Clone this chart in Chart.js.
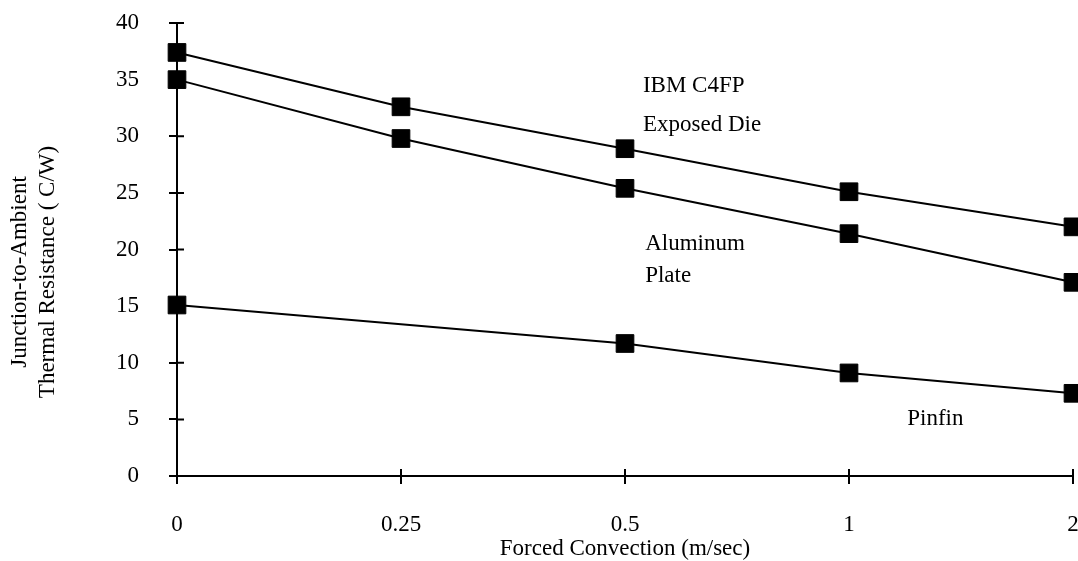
<!DOCTYPE html>
<html>
<head>
<meta charset="utf-8">
<script src="https://cdn.jsdelivr.net/npm/chart.js@4.4.1/dist/chart.umd.min.js"></script>
<style>
  html, body { margin: 0; padding: 0; background: #fff; }
  #wrap { width: 1078px; height: 561px; }
</style>
</head>
<body>
<div id="wrap"><canvas id="chart" width="1078" height="561"></canvas></div>
<script>
// --- Data ---
const speeds = ["0", "0.25", "0.5", "1", "2"];
const ibmDie = [37.4, 32.6, 28.9, 25.1, 22.0];
const aluPlate = [35.0, 29.8, 25.4, 21.4, 17.1];
const pinfin = [15.1, null, 11.7, 9.1, 7.3];

const xTitle = "Forced Convection (m/sec)";
const yTitle = ["Junction-to-Ambient", "Thermal Resistance ( C/W)"];

// labels next to the curves, in data units (x = category index)
const notes = [
  { text: "IBM C4FP", x: 2.08, y: 34.4 },
  { text: "Exposed Die", x: 2.08, y: 31.0 },
  { text: "Aluminum", x: 2.09, y: 20.5 },
  { text: "Plate", x: 2.09, y: 17.7 },
  { text: "Pinfin", x: 3.26, y: 5.0 },
];

const FONT = "'Liberation Serif', 'Times New Roman', serif";

// --- Plugins ---
// inner half of the tick marks, so they cross the axis lines
const crossTicks = {
  id: "crossTicks",
  afterDraw(chart) {
    const { ctx, scales: { x, y } } = chart;
    ctx.save();
    ctx.strokeStyle = "#000";
    ctx.lineWidth = 2;
    ctx.beginPath();
    y.ticks.forEach((t, i) => {
      const py = y.getPixelForTick(i);
      ctx.moveTo(x.left, py);
      ctx.lineTo(x.left + 7, py);
    });
    x.ticks.forEach((t, i) => {
      const px = x.getPixelForTick(i);
      ctx.moveTo(px, y.bottom);
      ctx.lineTo(px, y.bottom - 7);
    });
    ctx.stroke();
    ctx.restore();
  },
};

const textBits = {
  id: "textBits",
  afterDraw(chart) {
    const { ctx, scales: { x, y } } = chart;
    ctx.save();
    ctx.fillStyle = "#000";
    ctx.font = "23px " + FONT;
    ctx.textBaseline = "middle";
    ctx.textAlign = "left";
    notes.forEach((n) => {
      ctx.fillText(n.text, x.getPixelForValue(n.x), y.getPixelForValue(n.y));
    });
    // y axis title, two rotated lines
    ctx.textAlign = "center";
    yTitle.forEach((line, i) => {
      ctx.save();
      ctx.translate(20 + i * 28, 272);
      ctx.rotate(-Math.PI / 2);
      ctx.fillText(line, 0, 0);
      ctx.restore();
    });
    ctx.restore();
  },
};

// --- Chart ---
const ctx = document.getElementById("chart").getContext("2d");

function series(label, data) {
  return {
    label: label,
    data: data,
    borderColor: "#000",
    borderWidth: 2,
    backgroundColor: "#000",
    pointStyle: "rect",
    pointRadius: 12.5,
    pointBorderWidth: 1,
    pointBackgroundColor: "#000",
    pointBorderColor: "#000",
    tension: 0,
    spanGaps: true,
    clip: false,
  };
}

new Chart(ctx, {
  type: "line",
  data: {
    labels: speeds,
    datasets: [
      series("IBM C4FP Exposed Die", ibmDie),
      series("Aluminum Plate", aluPlate),
      series("Pinfin", pinfin),
    ],
  },
  options: {
    responsive: false,
    animation: false,
    devicePixelRatio: 1,
    layout: { autoPadding: false, padding: { top: 23, right: 5, left: 0, bottom: 0 } },
    plugins: {
      legend: { display: false },
      tooltip: { enabled: false },
    },
    scales: {
      x: {
        type: "category",
        offset: false,
        afterFit: (s) => {
          s.height = 85;
          s.paddingLeft = 0;
          s.paddingRight = 0;
        },
        border: { display: true, color: "#000", width: 2 },
        grid: {
          display: true,
          drawOnChartArea: false,
          drawTicks: true,
          tickLength: 8,
          color: "#000",
          lineWidth: 2,
        },
        ticks: {
          color: "#000",
          padding: 27,
          maxRotation: 0,
          autoSkip: false,
          font: { family: FONT, size: 23 },
        },
        title: {
          display: true,
          text: xTitle,
          color: "#000",
          padding: { top: 0, bottom: -2 },
          font: { family: FONT, size: 23 },
        },
      },
      y: {
        min: 0,
        max: 40,
        afterFit: (s) => {
          s.width = 177;
          s.paddingTop = 0;
          s.paddingBottom = 0;
        },
        border: { display: true, color: "#000", width: 2 },
        grid: {
          display: true,
          drawOnChartArea: false,
          drawTicks: true,
          tickLength: 8,
          color: "#000",
          lineWidth: 2,
        },
        ticks: {
          stepSize: 5,
          color: "#000",
          padding: 30,
          font: { family: FONT, size: 23 },
        },
      },
    },
  },
  plugins: [crossTicks, textBits],
});
</script>
</body>
</html>
